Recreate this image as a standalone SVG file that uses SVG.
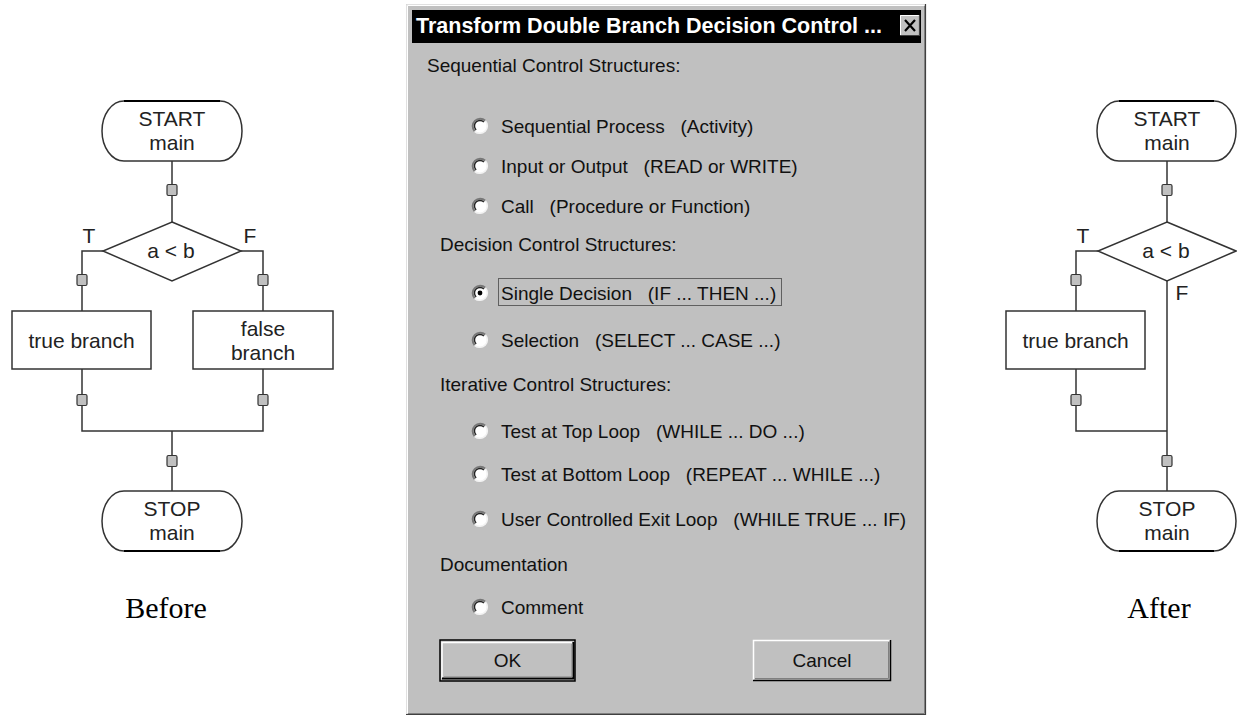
<svg xmlns="http://www.w3.org/2000/svg" xmlns:xlink="http://www.w3.org/1999/xlink" width="1237" height="716" viewBox="0 0 1237 716">
<style>
.shape{fill:#fff;stroke:#333;stroke-width:1.5}
.wire{fill:none;stroke:#333;stroke-width:1.5}
.fc{font-family:"Liberation Sans",Arial,sans-serif;font-size:21px;fill:#222;text-anchor:middle}
.cap{font-family:"Liberation Serif","Times New Roman",serif;font-size:30px;fill:#000;text-anchor:middle}
.dlg{font-family:"Liberation Sans",Arial,sans-serif;font-size:19px;fill:#111}
.ttl{font-family:"Liberation Sans",Arial,sans-serif;font-size:21.5px;font-weight:bold;fill:#fff}
</style>
<defs>
<rect id="pt" x="-5" y="-5.5" width="10" height="11" rx="1.5" fill="#c0c0c0" stroke="#333" stroke-width="1.2"/>
<g id="radio">
<circle r="7.5" fill="#fff"/>
<path d="M -5.3 5.3 A 7.5 7.5 0 0 1 5.3 -5.3" fill="none" stroke="#777" stroke-width="2"/>
<path d="M -3.9 3.9 A 5.5 5.5 0 0 1 3.9 -3.9" fill="none" stroke="#222" stroke-width="1.4"/>
<path d="M 5.3 -5.3 A 7.5 7.5 0 0 1 -5.3 5.3" fill="none" stroke="#f2f2f2" stroke-width="1.6"/>
</g>
</defs>
<rect width="1237" height="716" fill="#fff"/>

<!-- LEFT FLOWCHART (Before) -->
<g id="connectors-before">
<path class="wire" d="M172 161 V222"/>
<path class="wire" d="M103 251 H82 V311"/>
<path class="wire" d="M241 251 H263 V311"/>
<path class="wire" d="M82 369 V431 H263 V369"/>
<path class="wire" d="M172 431 V491"/>
<use href="#pt" x="172" y="190"/>
<use href="#pt" x="82" y="280"/>
<use href="#pt" x="263" y="280"/>
<use href="#pt" x="82" y="400"/>
<use href="#pt" x="263" y="400"/>
<use href="#pt" x="172" y="461"/>
<text class="fc" x="89" y="243">T</text>
<text class="fc" x="250" y="243">F</text>
</g>
<g id="before-start">
<rect class="shape" x="102" y="101" width="140" height="60" rx="22" ry="30"/>
<path d="M124 101 H220" stroke="#000" stroke-width="2"/>
<text class="fc" x="172" y="126">START</text>
<text class="fc" x="172" y="150">main</text>
</g>
<g id="before-decision">
<polygon class="shape" points="172,222 241,251 172,281 103,251"/>
<text class="fc" x="171" y="258">a &lt; b</text>
</g>
<g id="before-true">
<rect class="shape" x="12" y="311" width="139" height="58"/>
<text class="fc" x="81.5" y="348">true branch</text>
</g>
<g id="before-false">
<rect class="shape" x="193" y="311" width="140" height="58"/>
<text class="fc" x="263" y="336">false</text>
<text class="fc" x="263" y="360">branch</text>
</g>
<g id="before-stop">
<rect class="shape" x="102" y="491" width="140" height="60" rx="22" ry="30"/>
<path d="M124 551 H220" stroke="#000" stroke-width="2"/>
<text class="fc" x="172" y="516">STOP</text>
<text class="fc" x="172" y="540">main</text>
</g>
<text class="cap" x="166" y="618">Before</text>

<!-- DIALOG -->
<g id="dialog">
<rect x="406" y="4" width="520" height="711" fill="#c0c0c0"/>
<path d="M406.5 714.5 V4.5 H925.5" fill="none" stroke="#e0e0e0" stroke-width="1"/>
<path d="M407.5 713.5 V5.5 H924.5" fill="none" stroke="#fff" stroke-width="1"/>
<path d="M406 714.5 H925.5 V4" fill="none" stroke="#404040" stroke-width="1.2"/>
<path d="M408 713.5 H924.5 V6" fill="none" stroke="#808080" stroke-width="1"/>
<rect x="412" y="10" width="509" height="33" fill="#000"/>
<text class="ttl" x="416" y="33">Transform Double Branch Decision Control ...</text>
<g id="close-button">
<rect x="900" y="15" width="20" height="21" fill="#c0c0c0"/>
<path d="M900.5 35.5 V15.5 H919.5" fill="none" stroke="#fff" stroke-width="1"/>
<path d="M900 35.5 H919.5 V15" fill="none" stroke="#404040" stroke-width="1.2"/>
<path d="M905 20 L915 31 M915 20 L905 31" stroke="#000" stroke-width="2.2"/>
</g>

<text class="dlg" x="427" y="72">Sequential Control Structures:</text>
<g id="opt-seq"><use href="#radio" x="480" y="126"/><text class="dlg" x="501" y="133" xml:space="preserve">Sequential Process   (Activity)</text></g>
<g id="opt-io"><use href="#radio" x="480" y="166"/><text class="dlg" x="501" y="173" xml:space="preserve">Input or Output   (READ or WRITE)</text></g>
<g id="opt-call"><use href="#radio" x="480" y="206"/><text class="dlg" x="501" y="213" xml:space="preserve">Call   (Procedure or Function)</text></g>

<text class="dlg" x="440" y="251">Decision Control Structures:</text>
<g id="opt-single"><use href="#radio" x="480" y="293"/><circle cx="480" cy="293" r="2.4" fill="#000"/>
<rect x="498.5" y="278.5" width="283" height="27" fill="none" stroke="#000" stroke-width="1" stroke-dasharray="1,1"/>
<text class="dlg" x="501" y="300" xml:space="preserve">Single Decision   (IF ... THEN ...)</text></g>
<g id="opt-select"><use href="#radio" x="480" y="340"/><text class="dlg" x="501" y="347" xml:space="preserve">Selection   (SELECT ... CASE ...)</text></g>

<text class="dlg" x="440" y="391">Iterative Control Structures:</text>
<g id="opt-while"><use href="#radio" x="480" y="431"/><text class="dlg" x="501" y="438" xml:space="preserve">Test at Top Loop   (WHILE ... DO ...)</text></g>
<g id="opt-repeat"><use href="#radio" x="480" y="474"/><text class="dlg" x="501" y="481" xml:space="preserve">Test at Bottom Loop   (REPEAT ... WHILE ...)</text></g>
<g id="opt-exit"><use href="#radio" x="480" y="519"/><text class="dlg" x="501" y="526" xml:space="preserve">User Controlled Exit Loop   (WHILE TRUE ... IF)</text></g>

<text class="dlg" x="440" y="571">Documentation</text>
<g id="opt-comment"><use href="#radio" x="480" y="607"/><text class="dlg" x="501" y="614">Comment</text></g>

<g id="ok-button">
<rect x="440" y="640" width="135" height="41" fill="#c0c0c0" stroke="#000" stroke-width="1.5"/>
<path d="M442 678.5 V642.5 H572" fill="none" stroke="#fff" stroke-width="1.5"/>
<path d="M442 678.5 H573.5 V642" fill="none" stroke="#000" stroke-width="2"/>
<path d="M444 677 H572 V644" fill="none" stroke="#808080" stroke-width="1"/>
<text class="dlg" x="507.5" y="667" text-anchor="middle">OK</text>
</g>
<g id="cancel-button">
<rect x="753" y="640" width="138" height="41" fill="#c0c0c0"/>
<path d="M753.5 680 V640.5 H890" fill="none" stroke="#fff" stroke-width="1.5"/>
<path d="M753 680.5 H890.5 V640" fill="none" stroke="#000" stroke-width="1.5"/>
<path d="M755 678.5 H888.5 V642" fill="none" stroke="#808080" stroke-width="1"/>
<text class="dlg" x="822" y="667" text-anchor="middle">Cancel</text>
</g>
</g>

<!-- RIGHT FLOWCHART (After) -->
<g id="connectors-after">
<path class="wire" d="M1167 161 V222"/>
<path class="wire" d="M1098 251 H1076 V311"/>
<path class="wire" d="M1076 369 V431 H1167"/>
<path class="wire" d="M1167 281 V491"/>
<use href="#pt" x="1167" y="190"/>
<use href="#pt" x="1076" y="280"/>
<use href="#pt" x="1076" y="400"/>
<use href="#pt" x="1167" y="461"/>
<text class="fc" x="1083" y="243">T</text>
<text class="fc" x="1182" y="300">F</text>
</g>
<g id="after-start">
<rect class="shape" x="1097" y="101" width="139" height="60" rx="22" ry="30"/>
<path d="M1119 101 H1214" stroke="#000" stroke-width="2"/>
<text class="fc" x="1167" y="126">START</text>
<text class="fc" x="1167" y="150">main</text>
</g>
<g id="after-decision">
<polygon class="shape" points="1167,222 1236,251 1167,281 1098,251"/>
<text class="fc" x="1166" y="258">a &lt; b</text>
</g>
<g id="after-true">
<rect class="shape" x="1006" y="311" width="139" height="58"/>
<text class="fc" x="1075.5" y="348">true branch</text>
</g>
<g id="after-stop">
<rect class="shape" x="1097" y="491" width="139" height="60" rx="22" ry="30"/>
<path d="M1119 551 H1214" stroke="#000" stroke-width="2"/>
<text class="fc" x="1167" y="516">STOP</text>
<text class="fc" x="1167" y="540">main</text>
</g>
<text class="cap" x="1159" y="618">After</text>
</svg>
